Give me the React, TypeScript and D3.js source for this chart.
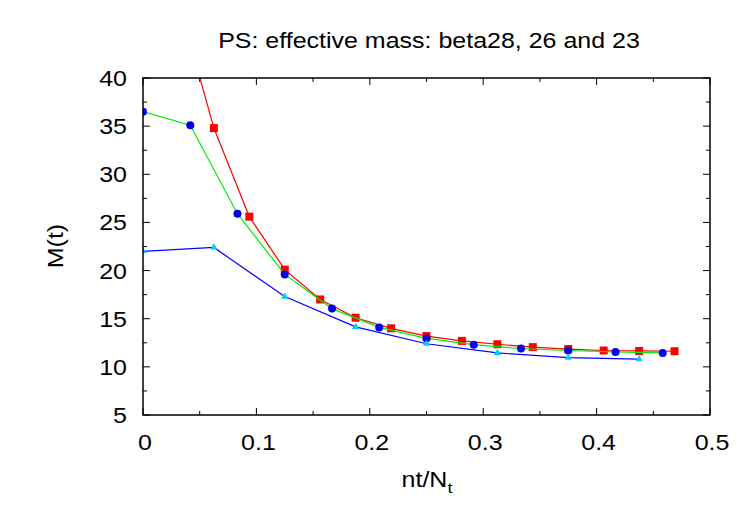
import React from "react";
import * as d3 from "d3";

// Effective mass of the pseudoscalar for three lattice sets
const beta28X = [0.03125, 0.0625, 0.09375, 0.125, 0.15625, 0.1875, 0.21875, 0.25, 0.28125, 0.3125, 0.34375, 0.375, 0.40625, 0.4375, 0.46875];
const beta28M = [48.0, 34.8, 25.6, 20.1, 17.0, 15.1, 14.0, 13.2, 12.7, 12.35, 12.05, 11.85, 11.7, 11.65, 11.62];

const beta26X = [0, 0.0417, 0.0833, 0.125, 0.1667, 0.2083, 0.25, 0.2917, 0.3333, 0.375, 0.4167, 0.4583];
const beta26M = [36.5, 35.1, 25.9, 19.6, 16.05, 14.1, 12.95, 12.3, 11.9, 11.7, 11.55, 11.45];

const beta23X = [0, 0.0625, 0.125, 0.1875, 0.25, 0.3125, 0.375, 0.4375];
const beta23M = [22.0, 22.4, 17.3, 14.15, 12.4, 11.45, 10.95, 10.8];

const xTicks = [0, 0.1, 0.2, 0.3, 0.4, 0.5];
const yTicks = [5, 10, 15, 20, 25, 30, 35, 40];

const W = 750;
const H = 525;
const L = 143, R = 710, T = 78, B = 415;
const FONT = "'Liberation Sans', Arial, Helvetica, sans-serif";
const FS = 25;
const SY = 0.86; // glyphs are slightly compressed vertically

function Label(props: {
  x: number;
  y: number;
  anchor?: "start" | "middle" | "end";
  rotate?: number;
  children: React.ReactNode;
}) {
  const { x, y, anchor = "middle", rotate = 0, children } = props;
  return (
    <text
      transform={`translate(${x},${y}) rotate(${rotate}) scale(1,${SY})`}
      textAnchor={anchor}
      fontFamily={FONT}
      fontSize={FS}
      fill="#000"
    >
      {children}
    </text>
  );
}

export default function App() {
  const x = d3.scaleLinear().domain([0, 0.5]).range([L, R]);
  const y = d3.scaleLinear().domain([5, 40]).range([B, T]);

  const line = d3
    .line<[number, number]>()
    .x((d) => x(d[0]))
    .y((d) => y(d[1]));

  const pts = (xs: number[], ys: number[]) => xs.map((v, i) => [v, ys[i]] as [number, number]);
  const red = pts(beta28X, beta28M);
  const green = pts(beta26X, beta26M);
  const blue = pts(beta23X, beta23M);

  const xMinor = d3.range(0.05, 0.5, 0.1);
  const yMinor = d3.range(7.5, 40, 5);

  const tri = d3.symbol().type(d3.symbolTriangle).size(22)();

  return (
    <svg width={W} height={H} style={{ position: "absolute", left: 0, top: 0, background: "#fff" }}>
      <defs>
        <clipPath id="plotArea">
          <rect x={L} y={T} width={R - L} height={B - T} />
        </clipPath>
      </defs>
      <rect x={0} y={0} width={W} height={H} fill="#fff" />

      <Label x={429} y={48}>PS: effective mass: beta28, 26 and 23</Label>

      {/* ticks on all four sides */}
      <g stroke="#000" strokeWidth={1}>
        {xTicks.map((t) => (
          <g key={"xt" + t}>
            <line x1={x(t)} x2={x(t)} y1={B} y2={B - 7} />
            <line x1={x(t)} x2={x(t)} y1={T} y2={T + 7} />
          </g>
        ))}
        {xMinor.map((t) => (
          <g key={"xm" + t}>
            <line x1={x(t)} x2={x(t)} y1={B} y2={B - 4} />
            <line x1={x(t)} x2={x(t)} y1={T} y2={T + 4} />
          </g>
        ))}
        {yTicks.map((t) => (
          <g key={"yt" + t}>
            <line x1={L} x2={L + 7} y1={y(t)} y2={y(t)} />
            <line x1={R} x2={R - 7} y1={y(t)} y2={y(t)} />
          </g>
        ))}
        {yMinor.map((t) => (
          <g key={"ym" + t}>
            <line x1={L} x2={L + 4} y1={y(t)} y2={y(t)} />
            <line x1={R} x2={R - 4} y1={y(t)} y2={y(t)} />
          </g>
        ))}
      </g>

      {/* tick labels */}
      {xTicks.map((t) => (
        <Label key={"xl" + t} x={x(t) + 2} y={450}>
          {t === 0 ? "0" : d3.format(".1f")(t)}
        </Label>
      ))}
      {yTicks.map((t) => (
        <Label key={"yl" + t} x={127} y={y(t) + 8} anchor="end">
          {t}
        </Label>
      ))}

      <Label x={63} y={246} rotate={-90}>M(t)</Label>
      <Label x={427} y={487}>
        nt/N
        <tspan fontSize={18} dy={7}>t</tspan>
      </Label>

      <g clipPath="url(#plotArea)">
        <path d={line(red) ?? ""} fill="none" stroke="#ff0000" strokeWidth={1.2} />
        {red.map((d, i) => (
          <rect key={"r" + i} x={x(d[0]) - 4} y={y(d[1]) - 4} width={8} height={8} fill="#ff0000" />
        ))}
        <path d={line(green) ?? ""} fill="none" stroke="#00ee00" strokeWidth={1.2} />
        {green.map((d, i) => (
          <circle key={"g" + i} cx={x(d[0])} cy={y(d[1])} r={4} fill="#0000ee" />
        ))}
        <path d={line(blue) ?? ""} fill="none" stroke="#0000ff" strokeWidth={1.2} />
        {blue.map((d, i) => (
          <path key={"b" + i} d={tri ?? ""} transform={`translate(${x(d[0])},${y(d[1])})`} fill="#00ccff" />
        ))}
      </g>

      <rect x={L} y={T} width={R - L} height={B - T} fill="none" stroke="#000" strokeWidth={1.5} />
    </svg>
  );
}
